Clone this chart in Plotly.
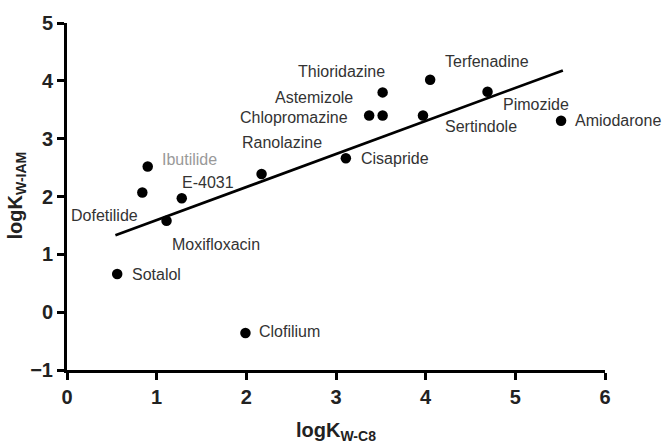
import plotly.graph_objects as go

# ---- data ----
names = ["Sotalol", "Clofilium", "Dofetilide", "Ibutilide", "E-4031", "Moxifloxacin",
         "Ranolazine", "Cisapride", "Chlopromazine", "Astemizole", "Thioridazine",
         "Sertindole", "Terfenadine", "Pimozide", "Amiodarone"]
log_kw_c8 = [0.56, 1.99, 0.84, 0.90, 1.28, 1.11, 2.17, 3.11, 3.37, 3.52, 3.52,
             3.97, 4.05, 4.69, 5.51]
log_kw_iam = [0.66, -0.36, 2.07, 2.52, 1.97, 1.58, 2.39, 2.66, 3.40, 3.40, 3.80,
              3.40, 4.02, 3.81, 3.31]
fit_x = [0.54, 5.53]
fit_y = [1.33, 4.18]
x_ticks = [0, 1, 2, 3, 4, 5, 6]
y_ticks = [-1, 0, 1, 2, 3, 4, 5]

# label placement (pixel offsets from each point): anchor, xshift, yshift
label_pos = {
    "Sotalol": ("left", 13, 0),
    "Clofilium": ("left", 12, 1),
    "Dofetilide": ("right", -2, -23),
    "Ibutilide": ("left", 12, 7),
    "E-4031": ("left", -2, 16),
    "Moxifloxacin": ("left", 3, -24),
    "Ranolazine": ("left", -22, 31),
    "Cisapride": ("left", 13, 0),
    "Chlopromazine": ("right", -19, -2),
    "Astemizole": ("right", -28, 18),
    "Thioridazine": ("right", 4, 21),
    "Sertindole": ("left", 20, -11),
    "Terfenadine": ("left", 13, 18),
    "Pimozide": ("left", 13, -13),
    "Amiodarone": ("left", 12, 0),
}

fig = go.Figure()
fig.add_trace(go.Scatter(x=fit_x, y=fit_y, mode="lines",
                         line=dict(color="black", width=2.7), showlegend=False,
                         hoverinfo="skip"))
fig.add_trace(go.Scatter(x=log_kw_c8, y=log_kw_iam, mode="markers", text=names,
                         marker=dict(color="black", size=10.5), showlegend=False))

for n, xv, yv in zip(names, log_kw_c8, log_kw_iam):
    anc, dx, dy = label_pos[n]
    fig.add_annotation(x=xv, y=yv, xref="x", yref="y", text=n, showarrow=False,
                       xanchor=anc, yanchor="middle", xshift=dx, yshift=dy,
                       font=dict(family="Liberation Sans, Arial", size=16,
                                 color="#999999" if n == "Ibutilide" else "#333333"))

fig.add_annotation(x=0.5, y=0, xref="paper", yref="paper", yshift=-61,
                   text="<b>logK<sub>W-C8</sub></b>", showarrow=False,
                   xanchor="center", yanchor="middle",
                   font=dict(family="Liberation Sans, Arial", size=20, color="#222222"))
fig.add_annotation(x=0, y=0.503, xref="paper", yref="paper", xshift=-51,
                   text="<b>logK<sub>W-IAM</sub></b>", showarrow=False, textangle=-90,
                   xanchor="center", yanchor="middle",
                   font=dict(family="Liberation Sans, Arial", size=20, color="#222222"))

axis_common = dict(showline=True, linecolor="black", linewidth=3, ticks="outside",
                   ticklen=7, tickwidth=3, tickcolor="black", showgrid=False,
                   zeroline=False, ticklabeloverflow="allow",
                   tickfont=dict(family="Liberation Sans, Arial", size=20,
                                 color="#222222", weight="bold"))
fig.update_xaxes(range=[0, 6], tickvals=x_ticks, ticktext=[str(t) for t in x_ticks],
                 **axis_common)
fig.update_yaxes(range=[-1, 5], tickvals=y_ticks,
                 ticktext=[("\u22121" if t < 0 else str(t)) for t in y_ticks],
                 **axis_common)

fig.update_layout(width=670, height=448, margin=dict(l=67, r=65, t=12, b=78),
                  plot_bgcolor="white", paper_bgcolor="white")
fig.write_html("out.html", config={"displayModeBar": False},
               post_script="document.body.style.margin='0';document.body.style.overflow='hidden';")
